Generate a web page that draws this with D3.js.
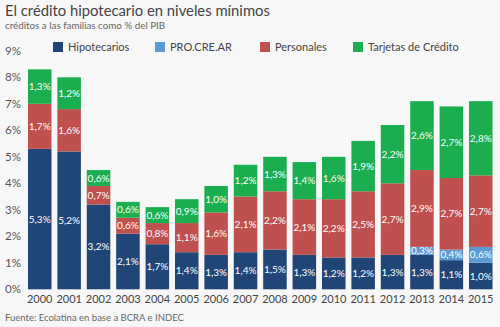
<!DOCTYPE html>
<html><head><meta charset="utf-8">
<script src="https://cdn.jsdelivr.net/npm/d3@7"></script>
<style>
html,body{margin:0;padding:0;background:#f7f7f7;}
svg{display:block;font-family:Lato,"Open Sans",sans-serif;}
</style></head>
<body>
<svg id="chart" width="500" height="327"></svg>
<script>
const years = ["2000","2001","2002","2003","2004","2005","2006","2007","2008","2009","2010","2011","2012","2013","2014","2015"];
const hipotecarios = [5.3,5.2,3.2,2.1,1.7,1.4,1.3,1.4,1.5,1.3,1.2,1.2,1.3,1.3,1.1,1.0];
const procrear =     [0,0,0,0,0,0,0,0,0,0,0,0,0,0.3,0.4,0.6];
const personales =   [1.7,1.6,0.7,0.6,0.8,1.1,1.6,2.1,2.2,2.1,2.2,2.5,2.7,2.9,2.7,2.7];
const tarjetas =     [1.3,1.2,0.6,0.6,0.6,0.9,1.0,1.2,1.3,1.4,1.6,1.9,2.2,2.6,2.7,2.8];
const seriesNames = ["Hipotecarios","PRO.CRE.AR","Personales","Tarjetas de Crédito"];
const colors = ["#1f4677","#5b9bd5","#c0504d","#1aae4f"];
const yTicks = [0,1,2,3,4,5,6,7,8,9];

const svg = d3.select("#chart");
svg.append("rect").attr("width",500).attr("height",327).attr("fill","#f7f7f7");

svg.append("text").attr("x",5).attr("y",16).attr("font-size",14.8).attr("fill","#444")
  .text("El crédito hipotecario en niveles mínimos");
svg.append("text").attr("x",5).attr("y",29).attr("font-size",9.8).attr("fill","#666")
  .text("créditos a las familias como % del PIB");

const rows = years.map((y,i)=>({year:y, h:hipotecarios[i], p:procrear[i], s:personales[i], t:tarjetas[i]}));
const keys = ["h","p","s","t"];
const stack = d3.stack().keys(keys)(rows);

const x = d3.scaleBand().domain(years).range([22.1,498.4]).paddingInner(0.2).paddingOuter(0.2);
const y = d3.scaleLinear().domain([0,9]).range([289.3,50.8]);

// y tick labels
svg.append("g").selectAll("text").data(yTicks).join("text")
  .attr("x",5).attr("y",d=>y(d)).attr("dy","0.35em")
  .attr("font-size",11.5).attr("fill","#555").text(d=>d+"%");

// bars
const g = svg.append("g");
stack.forEach((layer,li)=>{
  g.append("g").attr("fill",colors[li]).selectAll("rect").data(layer).join("rect")
    .attr("x",d=>x(d.data.year)).attr("width",x.bandwidth())
    .attr("y",d=>y(d[1])).attr("height",d=>Math.max(0,y(d[0])-y(d[1])));
  g.append("g").selectAll("text").data(layer.filter(d=>d[1]-d[0]>0)).join("text")
    .attr("x",d=>x(d.data.year)+x.bandwidth()/2)
    .attr("y",d=>(y(d[0])+y(d[1]))/2).attr("dy","0.35em")
    .attr("text-anchor","middle").attr("font-size",10).attr("fill","#fff")
    .text(d=>d3.format(".1f")(d[1]-d[0]).replace(".",",")+"%");
});

// x axis labels
svg.append("g").selectAll("text").data(years).join("text")
  .attr("x",d=>x(d)+x.bandwidth()/2).attr("y",299).attr("dy","0.35em")
  .attr("text-anchor","middle").attr("font-size",11).attr("fill","#444").text(d=>d);

// legend
const legX = [53,155,260,353];
const leg = svg.append("g").selectAll("g").data(seriesNames).join("g")
  .attr("transform",(d,i)=>`translate(${legX[i]},42)`);
leg.append("rect").attr("width",10).attr("height",10).attr("fill",(d,i)=>colors[i]);
leg.append("text").attr("x",15).attr("y",5).attr("dy","0.35em").attr("font-size",11).attr("fill","#444").text(d=>d);

svg.append("text").attr("x",5).attr("y",321).attr("font-size",9.5).attr("fill","#666")
  .text("Fuente: Ecolatina en base a BCRA e INDEC");
</script>
</body></html>
